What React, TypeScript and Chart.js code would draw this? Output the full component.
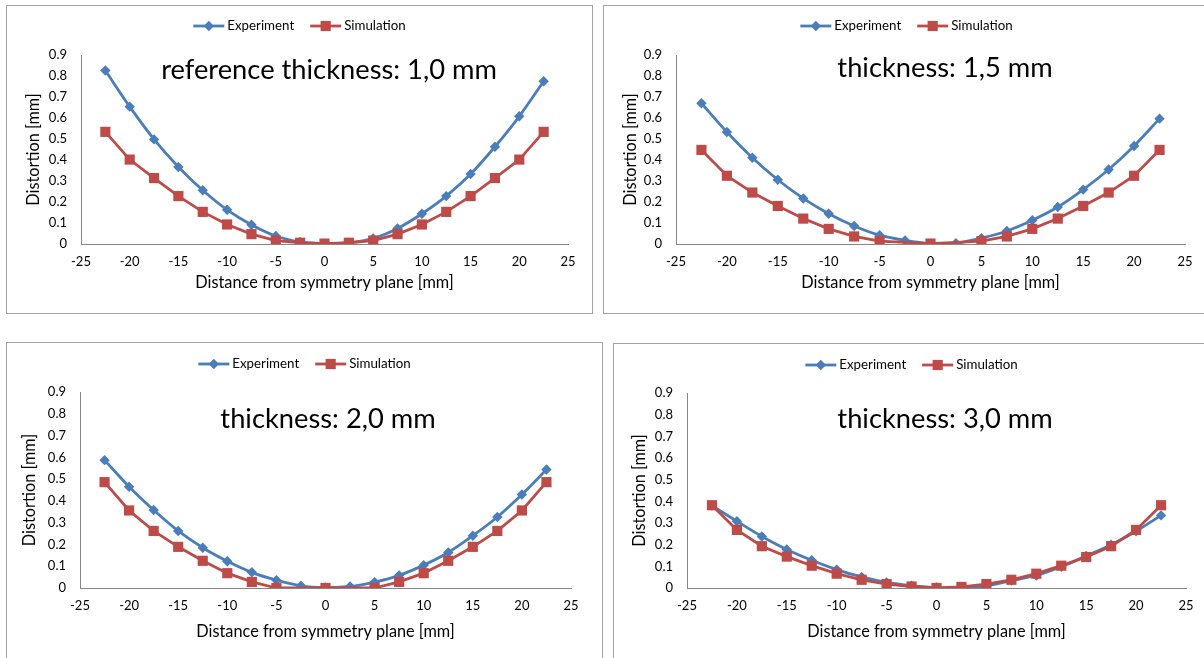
import React, { useEffect, useRef } from 'react';
import { Chart, registerables } from 'chart.js';

Chart.register(...registerables);

// ---------- data ----------
const xAll = [-22.5, -20, -17.5, -15, -12.5, -10, -7.5, -5, -2.5, 0, 2.5, 5, 7.5, 10, 12.5, 15, 17.5, 20, 22.5];
const xNoQuarter = [-22.5, -20, -17.5, -15, -12.5, -10, -7.5, -5, 0, 5, 7.5, 10, 12.5, 15, 17.5, 20, 22.5];

const experiment10 = [0.826, 0.654, 0.498, 0.367, 0.256, 0.163, 0.092, 0.038, 0.010, 0.002, 0.006, 0.027, 0.074, 0.144, 0.228, 0.333, 0.463, 0.608, 0.775];
const simulation10 = [0.534, 0.402, 0.314, 0.228, 0.153, 0.093, 0.047, 0.016, 0.006, 0.002, 0.006, 0.016, 0.047, 0.093, 0.153, 0.228, 0.314, 0.402, 0.534];

const experiment15 = [0.670, 0.533, 0.411, 0.306, 0.217, 0.144, 0.086, 0.042, 0.017, 0.002, 0.004, 0.028, 0.062, 0.113, 0.176, 0.259, 0.355, 0.467, 0.597];
const simulation15 = [0.448, 0.325, 0.245, 0.181, 0.121, 0.072, 0.036, 0.014, 0.002, 0.014, 0.036, 0.072, 0.121, 0.181, 0.245, 0.325, 0.448];

const experiment20 = [0.587, 0.465, 0.358, 0.262, 0.185, 0.123, 0.072, 0.036, 0.010, 0.002, 0.007, 0.027, 0.058, 0.105, 0.163, 0.240, 0.326, 0.429, 0.544];
const simulation20 = [0.486, 0.356, 0.262, 0.189, 0.125, 0.068, 0.028, 0.0, 0.0, 0.0, 0.028, 0.068, 0.125, 0.189, 0.262, 0.356, 0.486];

const experiment30 = [0.380, 0.308, 0.238, 0.178, 0.128, 0.085, 0.051, 0.026, 0.011, 0.002, 0.0, 0.010, 0.034, 0.058, 0.098, 0.148, 0.200, 0.262, 0.335];
const simulation30 = [0.382, 0.268, 0.193, 0.145, 0.103, 0.066, 0.038, 0.018, 0.007, 0.0, 0.005, 0.018, 0.038, 0.066, 0.103, 0.143, 0.193, 0.268, 0.382];

const panelTitles = ['reference thickness: 1,0 mm', 'thickness: 1,5 mm', 'thickness: 2,0 mm', 'thickness: 3,0 mm'];
const seriesNames = ['Experiment', 'Simulation'];
const xAxisTitle = 'Distance from symmetry plane [mm]';
const yAxisTitle = 'Distortion [mm]';
const xRange = [-25, 25, 5];
const yRange = [0, 0.9, 0.1];

// ---------- styling / layout ----------
const FONT = 'Lato';
const BLUE = '#4a7ebb';
const RED = '#be4b48';
const AXIS = '#868686';
const LINE_W = 2.8;
const DIAMOND_R = 5.2;
const SQUARE_R = 7.2;

type PanelCfg = {
  box: [number, number, number, number]; // left, top, width, height (page)
  plot: [number, number, number, number]; // left, top, right, bottom (page)
  yTitleX: number;
  xTitleY: number;
  legendY: number;
  titleX: number;
  titleBase: number;
  expX: number[];
  exp: number[];
  simX: number[];
  sim: number[];
  title: string;
};

const panels: PanelCfg[] = [
  { box: [6, 5, 587, 309], plot: [81, 55, 568, 244], yTitleX: 34, xTitleY: 283, legendY: 26, titleX: 329, titleBase: 79, expX: xAll, exp: experiment10, simX: xAll, sim: simulation10, title: panelTitles[0] },
  { box: [603, 5, 607, 309], plot: [676, 55, 1185, 244], yTitleX: 631, xTitleY: 283, legendY: 26, titleX: 945, titleBase: 77, expX: xAll, exp: experiment15, simX: xNoQuarter, sim: simulation15, title: panelTitles[1] },
  { box: [6, 342, 597, 330], plot: [80, 392, 571, 588], yTitleX: 30, xTitleY: 632, legendY: 364, titleX: 328, titleBase: 428, expX: xAll, exp: experiment20, simX: xNoQuarter, sim: simulation20, title: panelTitles[2] },
  { box: [613, 343, 597, 330], plot: [687, 393, 1186, 588], yTitleX: 640, xTitleY: 632, legendY: 365, titleX: 945, titleBase: 428, expX: xAll, exp: experiment30, simX: xAll, sim: simulation30, title: panelTitles[3] },
];

function drawMarker(ctx: CanvasRenderingContext2D, kind: string, x: number, y: number, r: number) {
  ctx.beginPath();
  if (kind === 'rectRot') {
    ctx.moveTo(x - r, y);
    ctx.lineTo(x, y - r);
    ctx.lineTo(x + r, y);
    ctx.lineTo(x, y + r);
  } else {
    const s = r * Math.SQRT1_2;
    ctx.rect(x - s, y - s, 2 * s, 2 * s);
  }
  ctx.closePath();
  ctx.fill();
}

function Panel({ cfg }: { cfg: PanelCfg }) {
  const ref = useRef<HTMLCanvasElement>(null);
  const [bl, bt, bw, bh] = cfg.box;
  const cLeft = bl + 1;
  const cTop = bt + 1;
  const cW = bw - 2;
  const cH = bh - 2;

  useEffect(() => {
    const canvas = ref.current;
    if (!canvas) return;
    const [pl, pt, pr, pb] = cfg.plot;
    const yAxisW = pl - cLeft;
    const padTop = pt - cTop;
    const padRight = cW - (pr - cLeft);
    const xAxisH = cH - (pb - cTop);
    const titleSize = 16.3;
    const titleLH = titleSize * 1.2;
    const yTitlePad = cfg.yTitleX - cLeft - titleLH / 2;
    const xTitlePad = cH - (cfg.xTitleY - cTop) - titleLH / 2;

    const legendPlugin = {
      id: 'customLegend',
      afterDraw(chart: any) {
        const ctx: CanvasRenderingContext2D = chart.ctx;
        ctx.save();
        ctx.font = `13.3px ${FONT}`;
        ctx.textBaseline = 'middle';
        ctx.textAlign = 'left';
        const items = [
          { name: seriesNames[0], color: BLUE, marker: 'rectRot', r: DIAMOND_R },
          { name: seriesNames[1], color: RED, marker: 'rect', r: SQUARE_R },
        ];
        const lineLen = 31;
        const gap = 3;
        const between = 16;
        const widths = items.map((it) => lineLen + gap + ctx.measureText(it.name).width);
        const total = widths.reduce((a, b) => a + b, 0) + between * (items.length - 1);
        let x = cW / 2 - total / 2;
        const y = cfg.legendY - cTop;
        items.forEach((it, i) => {
          ctx.strokeStyle = it.color;
          ctx.fillStyle = it.color;
          ctx.lineWidth = LINE_W;
          ctx.beginPath();
          ctx.moveTo(x, y);
          ctx.lineTo(x + lineLen, y);
          ctx.stroke();
          drawMarker(ctx, it.marker, x + lineLen / 2, y, it.r);
          ctx.fillStyle = '#000';
          ctx.fillText(it.name, x + lineLen + gap, y);
          x += widths[i] + between;
        });
        ctx.restore();
      },
    };

    const titlePlugin = {
      id: 'panelTitle',
      afterDraw(chart: any) {
        const ctx: CanvasRenderingContext2D = chart.ctx;
        ctx.save();
        ctx.font = `27.3px ${FONT}`;
        ctx.fillStyle = '#000';
        ctx.textAlign = 'center';
        ctx.textBaseline = 'alphabetic';
        ctx.fillText(cfg.title, cfg.titleX - cLeft, cfg.titleBase - cTop);
        ctx.restore();
      },
    };

    const chart = new Chart(canvas, {
      type: 'scatter',
      data: {
        datasets: [
          {
            label: seriesNames[0],
            data: cfg.expX.map((x, i) => ({ x, y: cfg.exp[i] })),
            showLine: true,
            borderColor: BLUE,
            backgroundColor: BLUE,
            borderWidth: LINE_W,
            pointStyle: 'rectRot',
            pointRadius: DIAMOND_R,
            pointBorderWidth: 0,
            tension: 0.3,
            order: 1,
          },
          {
            label: seriesNames[1],
            data: cfg.simX.map((x, i) => ({ x, y: cfg.sim[i] })),
            showLine: true,
            borderColor: RED,
            backgroundColor: RED,
            borderWidth: LINE_W,
            pointStyle: 'rect',
            pointRadius: SQUARE_R,
            pointBorderWidth: 0,
            tension: 0,
            order: 0,
          },
        ],
      },
      options: {
        animation: false,
        responsive: false,
        devicePixelRatio: 1,
        layout: { padding: { top: padTop, right: padRight, left: 0, bottom: 0 } },
        plugins: { legend: { display: false }, tooltip: { enabled: false } },
        scales: {
          x: {
            type: 'linear',
            min: xRange[0],
            max: xRange[1],
            ticks: {
              stepSize: xRange[2],
              padding: 10,
              color: '#000',
              font: { family: FONT, size: 13 },
              maxRotation: 0,
              autoSkip: false,
              callback: (v: any) => String(Math.round(Number(v))),
            },
            grid: { display: false, drawTicks: false },
            border: { display: true, color: AXIS, width: 1 },
            title: {
              display: true,
              text: xAxisTitle,
              color: '#000',
              font: { family: FONT, size: titleSize, lineHeight: 1.2 },
              padding: { top: 0, bottom: xTitlePad },
            },
            afterFit: (s: any) => {
              s.height = xAxisH;
            },
          },
          y: {
            type: 'linear',
            min: yRange[0],
            max: yRange[1],
            ticks: {
              stepSize: yRange[2],
              padding: 14,
              color: '#000',
              font: { family: FONT, size: 13 },
              autoSkip: false,
              callback: (v: any) => String(Math.round(Number(v) * 10) / 10),
            },
            grid: { display: false, drawTicks: false },
            border: { display: true, color: AXIS, width: 1 },
            title: {
              display: true,
              text: yAxisTitle,
              color: '#000',
              font: { family: FONT, size: titleSize, lineHeight: 1.2 },
              padding: { top: yTitlePad, bottom: 0 },
            },
            afterFit: (s: any) => {
              s.width = yAxisW;
            },
          },
        },
      },
      plugins: [legendPlugin, titlePlugin],
    } as any);
    return () => chart.destroy();
  }, []);

  return (
    <div
      style={{
        position: 'absolute',
        left: bl,
        top: bt,
        width: bw,
        height: bh,
        boxSizing: 'border-box',
        border: '1px solid #a3a3a3',
        background: '#fff',
      }}
    >
      <canvas ref={ref} width={cW} height={cH} style={{ display: 'block', width: cW, height: cH }} />
    </div>
  );
}

export default function App() {
  return (
    <div
      style={{
        position: 'absolute',
        left: 0,
        top: 0,
        width: 1204,
        height: 658,
        overflow: 'hidden',
        background: '#fff',
      }}
    >
      {panels.map((p, i) => (
        <Panel key={i} cfg={p} />
      ))}
    </div>
  );
}
